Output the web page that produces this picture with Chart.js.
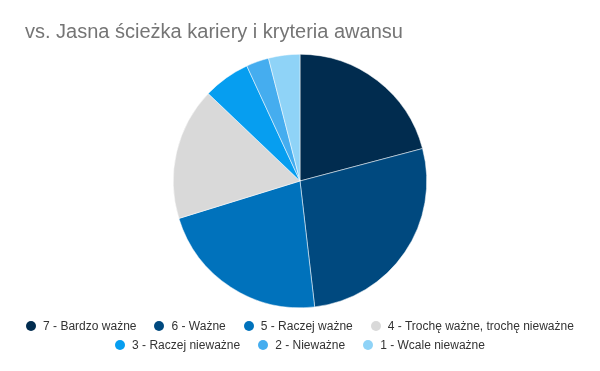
<!DOCTYPE html>
<html>
<head>
<meta charset="utf-8">
<script src="https://cdn.jsdelivr.net/npm/chart.js@4/dist/chart.umd.min.js"></script>
<style>
  html, body { margin: 0; padding: 0; background: #fff; }
  #wrap { position: relative; width: 600px; height: 371px; }
  #legend {
    position: absolute; left: 0; top: 316px; width: 600px;
    display: flex; flex-wrap: wrap; justify-content: center;
    column-gap: 18px; row-gap: 0;
    font: 12px "Liberation Sans", Arial, sans-serif; color: #333;
  }
  .item { display: flex; align-items: center; height: 19px; white-space: nowrap; }
  .dot { width: 10px; height: 10px; border-radius: 50%; margin-right: 7px; }
</style>
</head>
<body>
<div id="wrap">
  <canvas id="chart" width="600" height="371"></canvas>
  <div id="legend"></div>
</div>
<script>
// values (share of answers, %)
const labels = [
  '7 - Bardzo ważne',
  '6 - Ważne',
  '5 - Raczej ważne',
  '4 - Trochę ważne, trochę nieważne',
  '3 - Raczej nieważne',
  '2 - Nieważne',
  '1 - Wcale nieważne'
];
const values = [20.9, 27.3, 22.1, 16.9, 6.0, 2.9, 4.0];
const colors = ['#012c4f', '#00497f', '#0072bc', '#d9d9d9', '#069ef0', '#45adef', '#8fd3f7'];
const title = 'vs. Jasna ścieżka kariery i kryteria awansu';

// html legend, two centered rows like the original
const legendEl = document.getElementById('legend');
labels.forEach((text, i) => {
  const item = document.createElement('div');
  item.className = 'item';
  const dot = document.createElement('span');
  dot.className = 'dot';
  dot.style.background = colors[i];
  item.appendChild(dot);
  item.appendChild(document.createTextNode(text));
  legendEl.appendChild(item);
});

new Chart(document.getElementById('chart'), {
  type: 'pie',
  data: {
    labels: labels,
    datasets: [{
      data: values,
      backgroundColor: colors,
      borderColor: '#ffffff',
      borderWidth: 0.5
    }]
  },
  options: {
    responsive: false,
    animation: false,
    layout: { padding: { left: 25, right: 25, top: 0, bottom: 63 } },
    plugins: {
      legend: { display: false },
      tooltip: { enabled: false },
      title: {
        display: true,
        text: title,
        align: 'start',
        color: '#757575',
        font: { family: '"Liberation Sans", Arial, sans-serif', size: 20, weight: 'normal', lineHeight: 1.2 },
        padding: { top: 20, bottom: 10 }
      }
    }
  }
});
</script>
</body>
</html>
